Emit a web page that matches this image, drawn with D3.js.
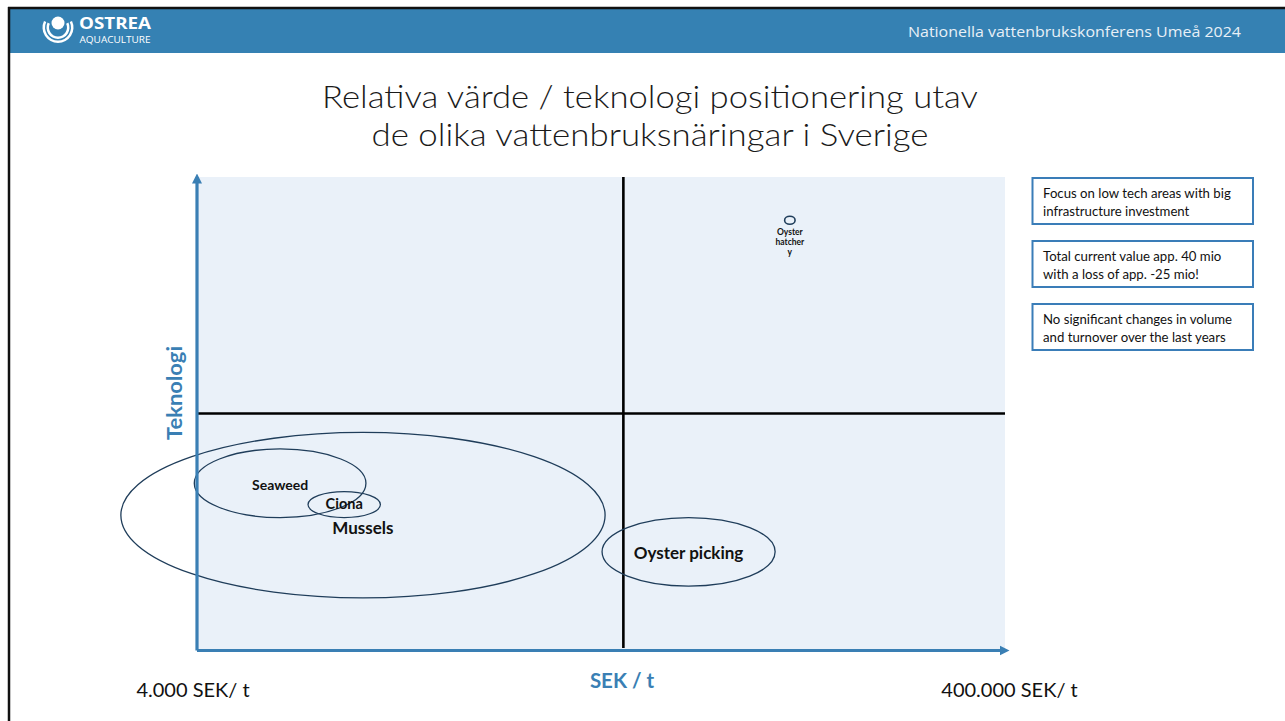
<!DOCTYPE html>
<html>
<head>
<meta charset="utf-8">
<script src="https://cdn.jsdelivr.net/npm/d3@7/dist/d3.min.js"></script>
<style>
  html, body { margin: 0; padding: 0; background: #ffffff; }
  svg { display: block; }
</style>
</head>
<body>
<script>
// ---------------- DATA ----------------
const headerTitle = "Nationella vattenbrukskonferens Umeå 2024";
const logoName = "OSTREA";
const logoSub = "AQUACULTURE";
const titleLines = ["Relativa värde / teknologi positionering utav", "de olika vattenbruksnäringar i Sverige"];

const xAxisTitle = "SEK / t";
const yAxisTitle = "Teknologi";
const xTickValues = [4000, 400000];            // SEK per tonne
const xTickLabels = ["4.000 SEK/ t", "400.000 SEK/ t"];
const techDomain = [0, 10];                     // relative technology level

const sekDivider = 45500;                       // quadrant split on value
const techDivider = 5;                          // quadrant split on technology

// industries (ellipse extents in SEK/t and technology level)
const sectors   = ["Mussels", "Seaweed", "Ciona", "Oyster picking", "Oyster hatchery"];
const sekLow    = [2600, 3950, 7550, 40300, 114000];
const sekHigh   = [41000, 10500, 11400, 108000, 121000];
const techLow   = [1.1, 2.8, 2.8, 1.35, 9.0];
const techHigh  = [4.6, 4.25, 3.35, 2.8, 9.17];
const labelTech = [2.6, 3.5, 3.1, 2.07, 8.84];
const labelLines = [["Mussels"], ["Seaweed"], ["Ciona"], ["Oyster picking"], ["Oyster", "hatcher", "y"]];

const notes = [
  ["Focus on low tech areas with big", "infrastructure investment"],
  ["Total current value app. 40 mio", "with a loss of app. -25 mio!"],
  ["No significant changes in volume", "and turnover over the last years"]
];

// ---------------- STYLE ----------------
const W = 1285, H = 721;
const headerBlue = "#3581b3";
const axisBlue = "#3a7fb4";
const plotBg = "#eaf1f9";
const ringColor = "#1f3d5a";
const labelSize = { "Mussels": 17, "Seaweed": 14, "Ciona": 14.5, "Oyster picking": 17, "Oyster hatchery": 8.5 };
const plot = { left: 196.5, right: 1005, top: 177, bottom: 650 };

const svg = d3.select("body").append("svg").attr("width", W).attr("height", H);

// defs: arrow markers
const defs = svg.append("defs");
defs.append("marker")
  .attr("id", "arrow").attr("viewBox", "0 0 10 10")
  .attr("refX", 6).attr("refY", 5)
  .attr("markerUnits", "userSpaceOnUse")
  .attr("markerWidth", 10).attr("markerHeight", 11)
  .attr("orient", "auto")
  .append("path").attr("d", "M0,0 L10,5 L0,10 Z").attr("fill", axisBlue);

// ---------------- SLIDE FRAME ----------------
svg.append("rect").attr("x", 10).attr("y", 9).attr("width", W - 10).attr("height", 44).attr("fill", headerBlue);
svg.append("line").attr("x1", 8).attr("x2", W).attr("y1", 8).attr("y2", 8).attr("stroke", "#111").attr("stroke-width", 2.5);
svg.append("line").attr("x1", 9).attr("x2", 9).attr("y1", 7).attr("y2", H).attr("stroke", "#111").attr("stroke-width", 2.5);

// logo
const logo = svg.append("g").attr("fill", "#ffffff");
logo.append("circle").attr("cx", 58).attr("cy", 23).attr("r", 6.5);
const arcGen = d3.arc();
[[9, 11.5], [13, 15.5]].forEach(([ri, ro]) => {
  logo.append("path")
    .attr("transform", "translate(58,27.5)")
    .attr("d", arcGen({ innerRadius: ri, outerRadius: ro, startAngle: 0.36 * Math.PI, endAngle: 1.64 * Math.PI }));
});
logo.append("text").attr("x", 79).attr("y", 29)
  .attr("font-family", "Open Sans, sans-serif").attr("font-weight", 700).attr("font-size", 15.5)
  .attr("textLength", 72).attr("lengthAdjust", "spacingAndGlyphs").text(logoName);
logo.append("text").attr("x", 79.5).attr("y", 43)
  .attr("font-family", "Open Sans, sans-serif").attr("font-size", 9.5)
  .attr("textLength", 71).attr("lengthAdjust", "spacingAndGlyphs").text(logoSub);

svg.append("text").attr("x", 1241).attr("y", 37).attr("text-anchor", "end")
  .attr("font-family", "Open Sans, sans-serif").attr("font-size", 14.5).attr("fill", "#e8f0f7")
  .attr("textLength", 333).attr("lengthAdjust", "spacingAndGlyphs").text(headerTitle);

// title
const titleG = svg.append("g").attr("font-family", "Lato, sans-serif").attr("font-weight", 300)
  .attr("font-size", 32).attr("fill", "#1a1a1a").attr("text-anchor", "middle");
const titleW = [656, 557];
titleLines.forEach((t, i) => {
  titleG.append("text").attr("x", 650).attr("y", 108 + i * 38)
    .attr("textLength", titleW[i]).attr("lengthAdjust", "spacingAndGlyphs").text(t);
});

// ---------------- SCALES ----------------
const x = d3.scaleLog().domain([xTickValues[0], xTickValues[1]]).range([plot.left, plot.right]);
const y = d3.scaleLinear().domain(techDomain).range([plot.bottom, plot.top]);

// plot background
svg.append("rect")
  .attr("x", x(xTickValues[0])).attr("y", y(techDomain[1]))
  .attr("width", x(xTickValues[1]) - x(xTickValues[0]))
  .attr("height", y(techDomain[0]) - y(techDomain[1]))
  .attr("fill", plotBg);

// quadrant lines
svg.append("line")
  .attr("x1", x(sekDivider)).attr("x2", x(sekDivider))
  .attr("y1", y(techDomain[1])).attr("y2", y(techDomain[0]) - 2)
  .attr("stroke", "#000").attr("stroke-width", 2.6);
svg.append("line")
  .attr("x1", x(xTickValues[0])).attr("x2", x(xTickValues[1]))
  .attr("y1", y(techDivider)).attr("y2", y(techDivider))
  .attr("stroke", "#000").attr("stroke-width", 2.6);

// ellipses
const rings = svg.append("g");
sectors.forEach((name, i) => {
  const x0 = x(sekLow[i]), x1 = x(sekHigh[i]);
  const y0 = y(techHigh[i]), y1 = y(techLow[i]);
  rings.append("ellipse")
    .attr("cx", (x0 + x1) / 2).attr("cy", (y0 + y1) / 2)
    .attr("rx", (x1 - x0) / 2).attr("ry", (y1 - y0) / 2)
    .attr("fill", "none").attr("stroke", ringColor)
    .attr("stroke-width", name === "Oyster hatchery" ? 1.6 : 1.3);
});
sectors.forEach((name, i) => {
  const cx = (x(sekLow[i]) + x(sekHigh[i])) / 2;
  const fs = labelSize[name];
  const lines = labelLines[i];
  lines.forEach((ln, j) => {
    rings.append("text")
      .attr("x", cx).attr("y", y(labelTech[i]) + j * fs * 1.2)
      .attr("text-anchor", "middle").attr("dominant-baseline", "central")
      .attr("font-family", "Lato, sans-serif").attr("font-weight", 700)
      .attr("font-size", fs).attr("fill", "#111").text(ln);
  });
});

// axes
const xAxis = d3.axisBottom(x).tickValues(xTickValues).tickSize(0).tickSizeOuter(0).tickPadding(33)
  .tickFormat((d, i) => xTickLabels[i]);
const yAxis = d3.axisLeft(y).tickValues([]).tickSize(0).tickSizeOuter(0);

const gx = svg.append("g").attr("transform", `translate(0,${plot.bottom})`).call(xAxis);
gx.select(".domain").attr("stroke", axisBlue).attr("stroke-width", 3.2).attr("marker-end", "url(#arrow)");
gx.selectAll(".tick text").attr("font-family", "Lato, sans-serif").attr("font-size", 20).attr("fill", "#111")
  .attr("dx", (d, i) => i === 0 ? -4 : 4);

const gy = svg.append("g").attr("transform", `translate(${plot.left},0)`).call(yAxis);
gy.select(".domain").attr("stroke", axisBlue).attr("stroke-width", 3.2).attr("marker-end", "url(#arrow)");

// axis titles
svg.append("text").attr("x", 622).attr("y", 688).attr("text-anchor", "middle")
  .attr("font-family", "Lato, sans-serif").attr("font-weight", 700).attr("font-size", 20.5)
  .attr("fill", axisBlue).text(xAxisTitle);
svg.append("text").attr("transform", "translate(182,393) rotate(-90)").attr("text-anchor", "middle")
  .attr("font-family", "Lato, sans-serif").attr("font-weight", 700).attr("font-size", 21)
  .attr("fill", axisBlue).attr("textLength", 94).attr("lengthAdjust", "spacingAndGlyphs").text(yAxisTitle);

// note boxes
const noteG = svg.append("g");
notes.forEach((lines, i) => {
  const top = 178 + i * 63;
  noteG.append("rect").attr("x", 1032.5).attr("y", top).attr("width", 220.5).attr("height", 46)
    .attr("fill", "#fff").attr("stroke", "#3a7db8").attr("stroke-width", 2);
  lines.forEach((ln, j) => {
    noteG.append("text").attr("x", 1043).attr("y", top + 19.5 + j * 18.5)
      .attr("font-family", "Lato, sans-serif").attr("font-size", 13.2).attr("fill", "#111").text(ln);
  });
});
</script>
</body>
</html>
